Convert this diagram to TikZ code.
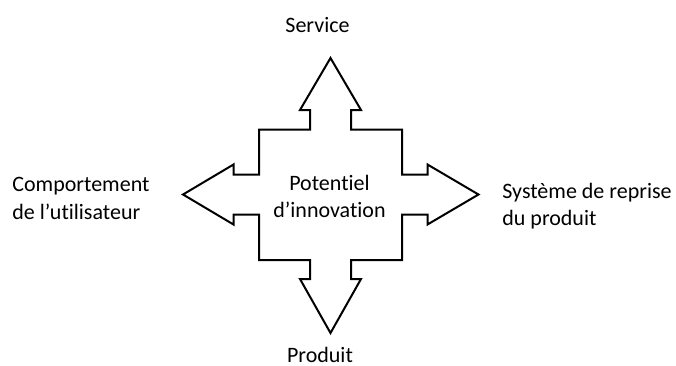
\documentclass[tikz,border=0pt]{standalone}
\usepackage{fontspec}
\setmainfont{Carlito}[Ligatures=NoCommon]

\begin{document}
\begin{tikzpicture}[x=0.5pt,y=-0.5pt,
        lbl/.style={inner sep=0pt,font=\fontsize{11}{13.6}\selectfont},
        cross/.style={draw=black,line width=1pt,fill=white}]
            \useasboundingbox (0,0) rectangle (676,365);
            \draw[cross] (330.5,58) -- (361,110) -- (351,110) -- (351,129.5) -- (402,129.5)
                -- (402,174.5) -- (427.5,174.5) -- (427.5,164.5) -- (478.5,194.5) -- (427.5,224.5)
                -- (427.5,214.5) -- (402,214.5) -- (402,260) -- (351,260) -- (351,279)
                -- (361,279) -- (330.5,333) -- (300,279) -- (310,279) -- (310,260)
                -- (259,260) -- (259,214.5) -- (233.5,214.5) -- (233.5,224.5) -- (183,194.5)
                -- (233.5,164.5) -- (233.5,174.5) -- (259,174.5) -- (259,129.5) -- (310,129.5)
                -- (310,110) -- (300,110) -- cycle;
            \node[lbl,align=center] (pot) at (329.5,196.6) {Potentiel\\d’innovation};
            \node[lbl,anchor=base] (serv) at (317.5,32.7) {Service};
            \node[lbl,anchor=base] (prod) at (320,362) {Produit};
            \node[lbl,align=left,anchor=west] (comp) at (12,198.5) {Comportement\\de l’utilisateur};
            \node[lbl,align=left,anchor=west] (rep) at (502,206.5) {Système de reprise\\du produit};
        \end{tikzpicture}
\end{document}
